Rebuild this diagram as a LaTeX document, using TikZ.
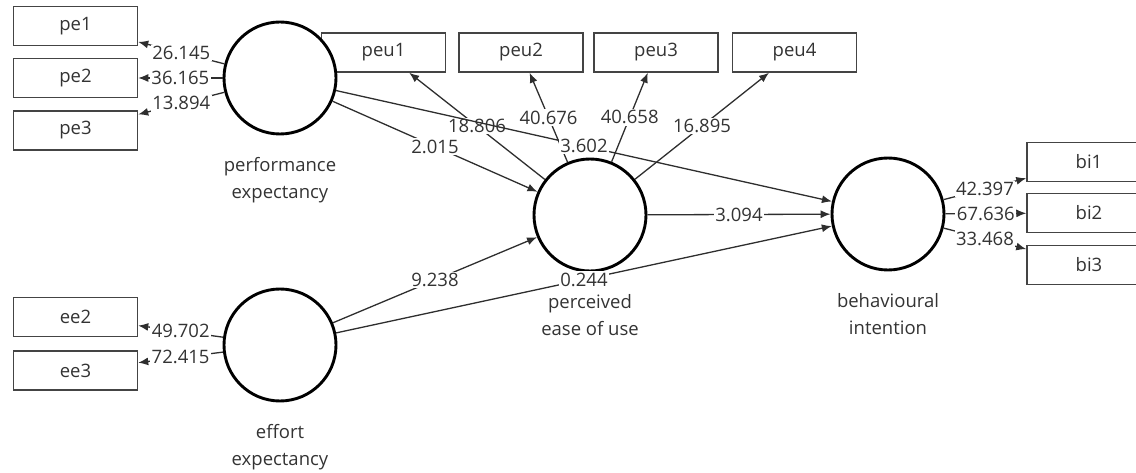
\documentclass[tikz,border=0pt]{standalone}
\usepackage{fontspec}
\setsansfont{Open Sans}
\usepackage{tikz}
\usetikzlibrary{positioning,arrows.meta}
\definecolor{pathgray}{HTML}{2E2E2E}
\definecolor{boxgray}{HTML}{444444}
\definecolor{txtgray}{HTML}{333333}

\begin{document}
\begin{tikzpicture}[x=1pt, y=-1pt, font=\sffamily\fontsize{18.5}{27}\selectfont, text=txtgray,
  latent/.style={circle, draw=black, line width=2.9pt, fill=white, minimum size=112pt, inner sep=0pt},
  indicator/.style={rectangle, draw=boxgray, line width=1.5pt, fill=white, minimum width=124pt, minimum height=39pt, inner sep=0pt},
  lvname/.style={align=center, inner sep=2pt},
  loading/.style={draw=pathgray, line width=1.3pt, -{Latex[length=10pt,width=8pt]}},
  tval/.style={fill=white, inner sep=1.5pt}]
  \useasboundingbox (0,0) rectangle (1136,473);

  \node[indicator] (pe1) at (75.5,26) {pe1};
  \node[indicator] (pe2) at (75.5,78) {pe2};
  \node[indicator] (pe3) at (75.5,130.5) {pe3};
  \node[indicator] (ee2) at (75.5,317) {ee2};
  \node[indicator] (ee3) at (75.5,370.5) {ee3};
  \node[indicator] (peu1) at (383.5,52.5) {peu1};
  \node[indicator] (peu2) at (521,52.5) {peu2};
  \node[indicator] (peu3) at (656,52.5) {peu3};
  \node[indicator] (peu4) at (794.5,52.5) {peu4};
  \node[indicator] (bi1) at (1089,162) {bi1};
  \node[indicator] (bi2) at (1089,213) {bi2};
  \node[indicator] (bi3) at (1089,265) {bi3};

  \node[latent] (pe) at (280,78) {};
  \node[latent] (ee) at (280,345) {};
  \node[latent] (peu) at (590,215) {};
  \node[latent] (bi) at (888,214) {};

  \node[lvname, below=20pt of pe] (pe-name) {performance\\expectancy};
  \node[lvname, below=20pt of ee] (ee-name) {effort\\expectancy};
  \node[lvname, below=20pt of peu] (peu-name) {perceived\\ease of use};
  \node[lvname, below=20pt of bi] (bi-name) {behavioural\\intention};

  \draw[loading] (pe) -- node[tval] {26.145} (pe1);
  \draw[loading] (pe) -- node[tval] {36.165} (pe2);
  \draw[loading] (pe) -- node[tval] {13.894} (pe3);
  \draw[loading] (ee) -- node[tval] {49.702} (ee2);
  \draw[loading] (ee) -- node[tval] {72.415} (ee3);
  \draw[loading] (peu) -- node[tval] {18.806} (peu1);
  \draw[loading] (peu) -- node[tval] {40.676} (peu2);
  \draw[loading] (peu) -- node[tval] {40.658} (peu3);
  \draw[loading] (peu) -- node[tval] {16.895} (peu4);
  \draw[loading] (bi) -- node[tval] {42.397} (bi1);
  \draw[loading] (bi) -- node[tval] {67.636} (bi2);
  \draw[loading] (bi) -- node[tval] {33.468} (bi3);

  \draw[loading] (pe) -- node[tval] {2.015} (peu);
  \draw[loading] (pe) -- node[tval] {3.602} (bi);
  \draw[loading] (ee) -- node[tval] {9.238} (peu);
  \draw[loading] (ee) -- node[tval] {0.244} (bi);
  \draw[loading] (peu) -- node[tval] {3.094} (bi);
\end{tikzpicture}
\end{document}
